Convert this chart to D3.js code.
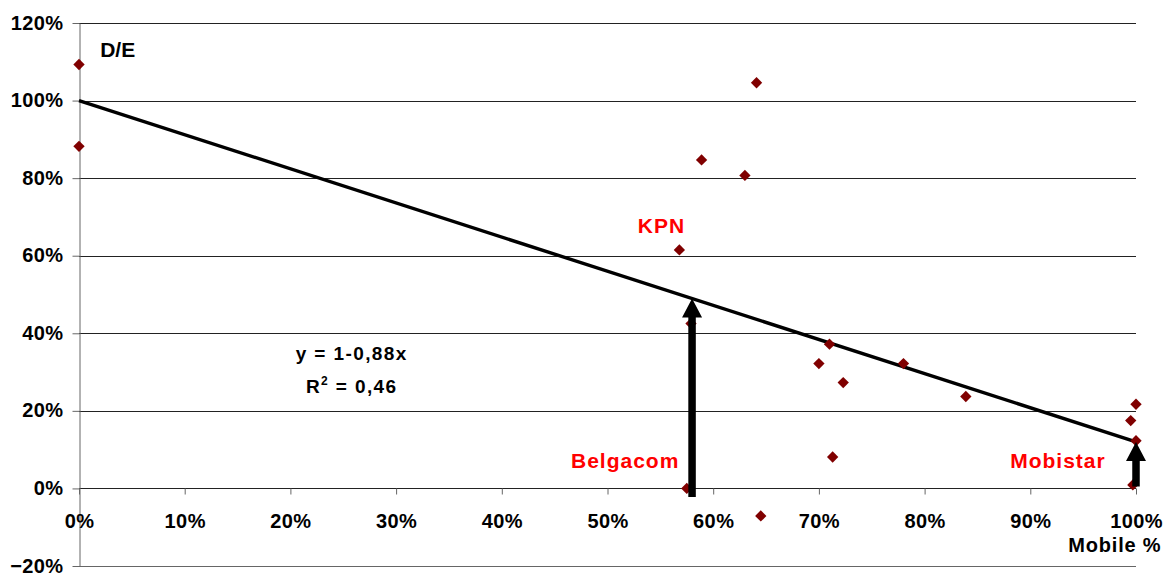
<!DOCTYPE html>
<html>
<head>
<meta charset="utf-8">
<script src="https://cdn.jsdelivr.net/npm/d3@7"></script>
<style>
  body { margin: 0; background: #fff; }
  svg { display: block; font-family: Arial, "Liberation Sans", sans-serif; font-weight: bold; }
</style>
</head>
<body>
<svg width="1174" height="574"></svg>
<script>
// share of mobile in revenues vs debt/equity
var mobileShare = [0, 0, 0.641, 0.589, 0.630, 0.568, 0.579, 0.710, 0.700, 0.723,
                   0.780, 0.839, 0.713, 0.575, 0.645, 1.0, 0.995, 1.0, 0.997];
var debtEquity  = [1.093, 0.882, 1.046, 0.847, 0.807, 0.615, 0.425, 0.372, 0.322, 0.273,
                   0.322, 0.237, 0.081, 0.0, -0.071, 0.217, 0.175, 0.123, 0.009];

var xTicks = [0, 0.1, 0.2, 0.3, 0.4, 0.5, 0.6, 0.7, 0.8, 0.9, 1.0];
var yTicks = [-0.2, 0, 0.2, 0.4, 0.6, 0.8, 1.0, 1.2];

// trend y = 1 - 0.88x
var trendIntercept = 1, trendSlope = -0.88;
var trendX = [0, 1];

// arrows: company name, x, start y
var arrowNames = ["Belgacom", "Mobistar"];
var arrowX = [0.58, 1.0];
var arrowFrom = [-0.022, 0.005];

var svg = d3.select("svg");

var x = d3.scaleLinear().domain([0, 1]).range([79, 1136]);
var y = d3.scaleLinear().domain([-0.2, 1.2]).range([566, 23]);
var pct = d3.format(".0%");

// gridlines
svg.append("g").selectAll("line")
    .data(yTicks)
  .enter().append("line")
    .attr("x1", x(0)).attr("x2", x(1))
    .attr("y1", function(d) { return Math.round(y(d)) + 0.5; })
    .attr("y2", function(d) { return Math.round(y(d)) + 0.5; })
    .attr("stroke", function(d) { return d === -0.2 ? "#666" : "#222"; })
    .attr("stroke-width", 1);

// y axis
var yAxis = svg.append("g")
    .attr("transform", "translate(" + (x(0) + 0.5) + ",0)")
    .call(d3.axisLeft(y).tickValues(yTicks).tickFormat(pct).tickSize(7).tickSizeOuter(0));
yAxis.select(".domain").attr("stroke", "#666");
yAxis.selectAll(".tick line").attr("stroke", "#666");
yAxis.selectAll(".tick text")
    .attr("x", -16)
    .attr("dy", "0.3em")
    .attr("font-size", 20)
    .attr("letter-spacing", 0.4)
    .attr("font-family", "Arial, 'Liberation Sans', sans-serif")
    .attr("font-weight", "bold")
    .attr("fill", "#000");

// x axis at 0%
var xAxis = svg.append("g")
    .attr("transform", "translate(0," + (Math.round(y(0)) + 0.5) + ")")
    .call(d3.axisBottom(x).tickValues(xTicks).tickFormat(pct).tickSize(6).tickSizeOuter(0));
xAxis.select(".domain").remove();
xAxis.selectAll(".tick line").attr("stroke", "#666");
xAxis.selectAll(".tick text")
    .attr("y", 25)
    .attr("font-size", 20)
    .attr("letter-spacing", 0.4)
    .attr("font-family", "Arial, 'Liberation Sans', sans-serif")
    .attr("font-weight", "bold")
    .attr("fill", "#000");

// trend line
svg.append("path")
    .datum(trendX)
    .attr("fill", "none")
    .attr("stroke", "#000")
    .attr("stroke-width", 3.4)
    .attr("d", d3.line()
        .x(function(d) { return x(d); })
        .y(function(d) { return y(trendIntercept + trendSlope * d); }));

// points
svg.append("g").selectAll("path")
    .data(mobileShare)
  .enter().append("path")
    .attr("d", d3.symbol(d3.symbolSquare, 64))
    .attr("fill", "#800000")
    .attr("transform", function(d, i) {
      return "translate(" + x(d) + "," + y(debtEquity[i]) + ") rotate(45)";
    });

// arrows
var shaftW = 7.5, headW = 20, headH = 19;
svg.append("g").selectAll("path")
    .data(arrowX)
  .enter().append("path")
    .attr("fill", "#000")
    .attr("d", function(d, i) {
      var cx = x(d),
          y0 = y(arrowFrom[i]),
          y1 = y(trendIntercept + trendSlope * d);
      var p = d3.path();
      p.moveTo(cx - shaftW / 2, y0);
      p.lineTo(cx - shaftW / 2, y1 + headH);
      p.lineTo(cx - headW / 2, y1 + headH);
      p.lineTo(cx, y1);
      p.lineTo(cx + headW / 2, y1 + headH);
      p.lineTo(cx + shaftW / 2, y1 + headH);
      p.lineTo(cx + shaftW / 2, y0);
      p.closePath();
      return p.toString();
    });

// labels
svg.append("text")
    .attr("x", x(0.02)).attr("y", y(1.112))
    .attr("font-size", 21)
    .text("D/E");

svg.append("text")
    .attr("x", x(1.024)).attr("y", y(-0.163))
    .attr("text-anchor", "end")
    .attr("font-size", 20)
    .attr("letter-spacing", 0.8)
    .text("Mobile %");

svg.append("text")
    .attr("x", x(0.551)).attr("y", y(0.658))
    .attr("text-anchor", "middle")
    .attr("font-size", 21)
    .attr("letter-spacing", 1)
    .attr("fill", "#ff0000")
    .text("KPN");

svg.append("text")
    .attr("x", x(0.568)).attr("y", y(0.053))
    .attr("text-anchor", "end")
    .attr("font-size", 21)
    .attr("letter-spacing", 1)
    .attr("fill", "#ff0000")
    .text(arrowNames[0]);

svg.append("text")
    .attr("x", x(0.881)).attr("y", y(0.052))
    .attr("font-size", 21)
    .attr("letter-spacing", 1)
    .attr("fill", "#ff0000")
    .text(arrowNames[1]);

// equation
svg.append("text")
    .attr("x", x(0.258)).attr("y", y(0.331))
    .attr("text-anchor", "middle")
    .attr("font-size", 19)
    .attr("letter-spacing", 1.4)
    .text("y = 1-0,88x");

var r2 = svg.append("text")
    .attr("x", x(0.258)).attr("y", y(0.247))
    .attr("text-anchor", "middle")
    .attr("font-size", 19)
    .attr("letter-spacing", 1.4);
r2.append("tspan").text("R");
r2.append("tspan").attr("dy", -8).attr("font-size", 12).text("2");
r2.append("tspan").attr("dy", 8).text(" = 0,46");
</script>
</body>
</html>
